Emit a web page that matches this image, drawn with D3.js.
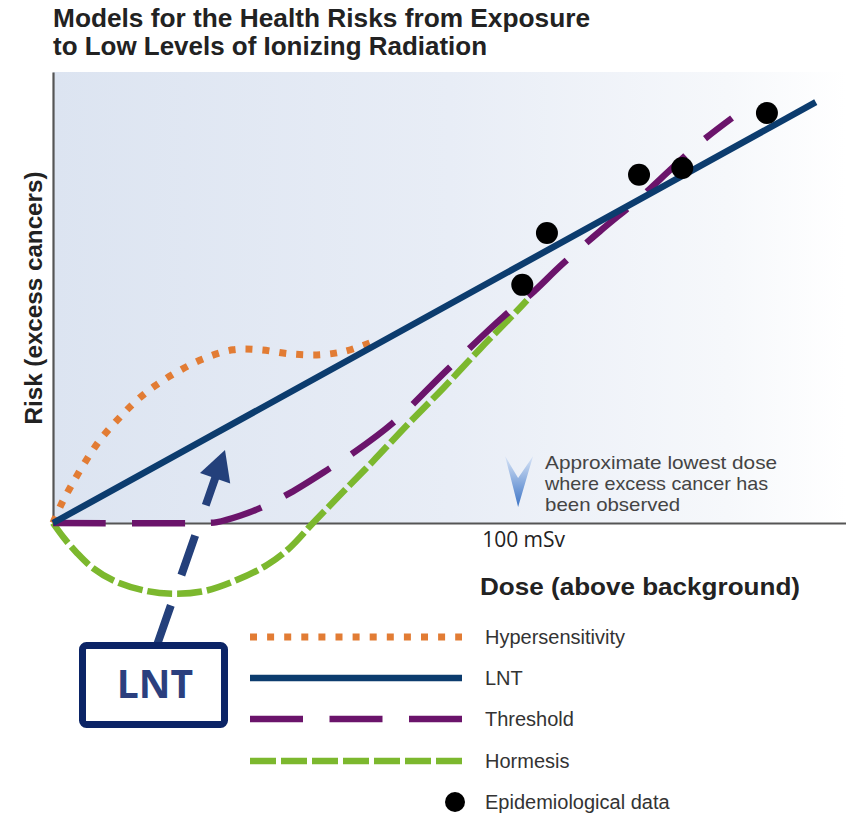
<!DOCTYPE html>
<html>
<head>
<meta charset="utf-8">
<script src="https://cdn.jsdelivr.net/npm/d3@7/dist/d3.min.js"></script>
<style>
  html, body { margin: 0; padding: 0; background: #ffffff; }
  svg { display: block; }
</style>
</head>
<body>
<svg id="chart" width="846" height="818"></svg>
<script>
// ---------------- DATA (dose in mSv-like units, risk in arbitrary units) ----------------
const titleLines = ["Models for the Health Risks from Exposure", "to Low Levels of Ionizing Radiation"];
const xAxisTitle = "Dose (above background)";
const yAxisTitle = "Risk (excess cancers)";
const xTickValues = [100];
const xTickLabels = ["100 mSv"];
const annotationLines = ["Approximate lowest dose", "where excess cancer has", "been observed"];
const annotationDose = 100;

const seriesNames = ["Hypersensitivity", "LNT", "Threshold", "Hormesis", "Epidemiological data"];

const lntDose = [0, 164];
const lntRisk = [0, 93.3];

const hyperDose = [0, 1.9, 4.1, 6.9, 10.1, 13.8, 17.6, 21.9, 26.7, 32.3, 38.7, 44.5, 51.0, 57.4, 62.8, 68.6];
const hyperRisk = [0, 4.4, 8.6, 13.5, 18.4, 22.8, 26.8, 30.4, 33.5, 36.4, 38.4, 38.4, 37.5, 37.3, 38.1, 40.1];

const threshDose = [0, 31.6, 35.3, 40.2, 44.5, 51.0, 59.6, 64.5, 73.1, 84.7, 96.8, 102.6, 109.5, 117.6, 126.2, 132.7, 139.1, 146.0];
const threshRisk = [0, 0, 0.2, 1.6, 3.3, 6.7, 12.2, 15.5, 22.2, 33.9, 45.7, 50.6, 57.4, 64.7, 72.1, 78.3, 84.3, 89.8];

const hormDose = [0, 2.2, 5.2, 8.6, 13.3, 20.2, 26.0, 32.5, 39.6, 46.0, 50.9, 55.9, 61.7, 68.8, 76.1, 83.9, 91.8, 98.9, 101.9];
const hormRisk = [0, -3.1, -6.7, -10.0, -12.9, -15.1, -15.7, -15.1, -12.6, -9.3, -5.5, 0, 6.2, 13.7, 21.7, 29.9, 38.6, 46.1, 49.4];

const epiDose = [100.9, 106.2, 126.0, 135.3, 153.5];
const epiRisk = [52.8, 64.3, 77.2, 78.7, 90.9];

const calloutLabel = "LNT";

// ---------------- DRAWING ----------------
const svg = d3.select("#chart");
const x = d3.scaleLinear().domain([0, 170.5]).range([53, 846]);
const y = d3.scaleLinear().domain([0, 100]).range([523, 72]);

const colors = {
  hyper: "#e27c34",
  lnt: "#0c3c6e",
  thresh: "#6b146b",
  horm: "#7cb82e",
  epi: "#000000",
  callout: "#24407b",
  calloutBox: "#0b2466"
};

const defs = svg.append("defs");
const bg = defs.append("linearGradient").attr("id", "bgGrad")
  .attr("x1", "0").attr("y1", "0").attr("x2", "1").attr("y2", "0");
bg.append("stop").attr("offset", "0").attr("stop-color", "#dce4f1");
bg.append("stop").attr("offset", "0.5").attr("stop-color", "#e8edf6");
bg.append("stop").attr("offset", "0.85").attr("stop-color", "#f6f8fb");
bg.append("stop").attr("offset", "1").attr("stop-color", "#ffffff");

const chev = defs.append("linearGradient").attr("id", "chevGrad")
  .attr("x1", "0").attr("y1", "0").attr("x2", "0").attr("y2", "1");
chev.append("stop").attr("offset", "0").attr("stop-color", "#d8e4f6");
chev.append("stop").attr("offset", "1").attr("stop-color", "#3c74c6");

// plot background
svg.append("rect")
  .attr("x", x(0)).attr("y", y(100))
  .attr("width", x.range()[1] - x(0)).attr("height", y(0) - y(100))
  .attr("fill", "url(#bgGrad)");

// title
svg.append("g").selectAll("text").data(titleLines).join("text")
  .attr("x", 53).attr("y", (d, i) => 27 + i * 28)
  .attr("font-family", "'Liberation Sans', Arial, sans-serif")
  .attr("font-weight", "bold").attr("font-size", 25)
  .attr("fill", "#222")
  .attr("textLength", (d, i) => [537, 434][i])
  .attr("lengthAdjust", "spacingAndGlyphs")
  .text(d => d);

// axes
const xAxis = d3.axisBottom(x).tickValues(xTickValues)
  .tickFormat((d, i) => xTickLabels[i]).tickSize(0).tickSizeOuter(0).tickPadding(9);
const gx = svg.append("g").attr("transform", `translate(0,${y(0)})`).call(xAxis);
gx.select(".domain").attr("stroke", "#555").attr("stroke-width", 2.2);
gx.selectAll(".tick text")
  .attr("font-family", "'Open Sans', 'Noto Sans', sans-serif")
  .attr("font-size", 21).attr("fill", "#222").attr("dx", 5);

const yAxis = d3.axisLeft(y).tickValues([]).tickSize(0).tickSizeOuter(0);
const gy = svg.append("g").attr("transform", `translate(${x(0)},0)`).call(yAxis);
gy.select(".domain").attr("stroke", "#555").attr("stroke-width", 2.2);

// axis titles
svg.append("text")
  .attr("transform", `translate(42,298) rotate(-90)`)
  .attr("text-anchor", "middle")
  .attr("font-family", "'Liberation Sans', Arial, sans-serif")
  .attr("font-weight", "bold").attr("font-size", 23).attr("fill", "#222")
  .attr("textLength", 253).attr("lengthAdjust", "spacingAndGlyphs")
  .text(yAxisTitle);

svg.append("text")
  .attr("x", 480).attr("y", 595)
  .attr("font-family", "'Liberation Sans', Arial, sans-serif")
  .attr("font-weight", "bold").attr("font-size", 24).attr("fill", "#222")
  .attr("textLength", 320).attr("lengthAdjust", "spacingAndGlyphs")
  .text(xAxisTitle);

// annotation chevron + text
const cx = x(annotationDose);
svg.append("path")
  .attr("d", `M${cx - 13},456 L${cx},478 L${cx + 15},456 L${cx},507 Z`)
  .attr("fill", "url(#chevGrad)");
svg.append("g").selectAll("text").data(annotationLines).join("text")
  .attr("x", cx + 27).attr("y", (d, i) => 469 + i * 21)
  .attr("font-family", "'Liberation Sans', Arial, sans-serif")
  .attr("font-size", 17.8).attr("fill", "#444")
  .attr("textLength", (d, i) => [232, 223, 135][i])
  .attr("lengthAdjust", "spacingAndGlyphs")
  .text(d => d);

// series lines
const zip = (a, b) => a.map((v, i) => [v, b[i]]);
const line = d3.line().x(d => x(d[0])).y(d => y(d[1])).curve(d3.curveCatmullRom.alpha(0.5));

svg.append("path").datum(zip(hyperDose, hyperRisk))
  .attr("d", line).attr("fill", "none")
  .attr("stroke", colors.hyper).attr("stroke-width", 7)
  .attr("stroke-dasharray", "7,10");

svg.append("path").datum(zip(hormDose, hormRisk))
  .attr("d", line).attr("fill", "none")
  .attr("stroke", colors.horm).attr("stroke-width", 6.5)
  .attr("stroke-dasharray", "25,5");

svg.append("path").datum(zip(threshDose, threshRisk))
  .attr("d", line).attr("fill", "none")
  .attr("stroke", colors.thresh).attr("stroke-width", 6.5)
  .attr("stroke-dasharray", "53,26");

svg.append("path").datum(zip(lntDose, lntRisk))
  .attr("d", d3.line().x(d => x(d[0])).y(d => y(d[1]))).attr("fill", "none")
  .attr("stroke", colors.lnt).attr("stroke-width", 6.5);

svg.append("g").selectAll("circle").data(zip(epiDose, epiRisk)).join("circle")
  .attr("cx", d => x(d[0])).attr("cy", d => y(d[1])).attr("r", 11)
  .attr("fill", colors.epi);

// legend
const legendX0 = 250, legendX1 = 462, legendTextX = 485;
const legendY = [637, 678, 719, 761, 802];
const legendStyles = [
  { color: colors.hyper, w: 7, dash: "7,10.1" },
  { color: colors.lnt, w: 6.5, dash: null },
  { color: colors.thresh, w: 6.5, dash: "53,26.5" },
  { color: colors.horm, w: 6.5, dash: "26,5" }
];
const lg = svg.append("g");
legendStyles.forEach((s, i) => {
  lg.append("line")
    .attr("x1", legendX0).attr("x2", legendX1)
    .attr("y1", legendY[i]).attr("y2", legendY[i])
    .attr("stroke", s.color).attr("stroke-width", s.w)
    .attr("stroke-dasharray", s.dash);
});
lg.append("circle").attr("cx", 455).attr("cy", legendY[4]).attr("r", 10).attr("fill", colors.epi);
lg.selectAll("text").data(seriesNames).join("text")
  .attr("x", legendTextX).attr("y", (d, i) => legendY[i] + 7)
  .attr("font-family", "'Liberation Sans', Arial, sans-serif")
  .attr("font-size", 20).attr("fill", "#333")
  .text(d => d);

// LNT callout: dashed arrow + box
const tip = [225, 450], start = [157, 645];
const dx = tip[0] - start[0], dy = tip[1] - start[1];
const L = Math.hypot(dx, dy), ux = dx / L, uy = dy / L, px = -uy, py = ux;
const headLen = 30, headHalf = 16;
const base = [tip[0] - headLen * ux, tip[1] - headLen * uy];
svg.append("line")
  .attr("x1", start[0]).attr("y1", start[1])
  .attr("x2", base[0] + 2 * ux).attr("y2", base[1] + 2 * uy)
  .attr("stroke", colors.callout).attr("stroke-width", 8)
  .attr("stroke-dasharray", "42,32");
svg.append("path")
  .attr("d", `M${tip[0]},${tip[1]} L${base[0] + headHalf * px},${base[1] + headHalf * py} L${base[0] - headHalf * px},${base[1] - headHalf * py} Z`)
  .attr("fill", colors.callout);

svg.append("rect")
  .attr("x", 82.5).attr("y", 645.5).attr("width", 142).attr("height", 79).attr("rx", 4)
  .attr("fill", "#ffffff").attr("stroke", colors.calloutBox).attr("stroke-width", 7);
svg.append("text")
  .attr("x", 155).attr("y", 698).attr("text-anchor", "middle")
  .attr("font-family", "'Open Sans', 'Noto Sans', sans-serif")
  .attr("font-weight", "bold").attr("font-size", 39).attr("fill", "#2b3f7e")
  .text(calloutLabel);
</script>
</body>
</html>
